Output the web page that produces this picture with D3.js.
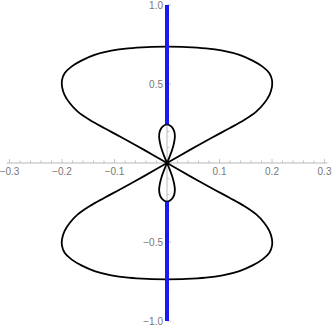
<!DOCTYPE html>
<html>
<head>
<meta charset="utf-8">
<script src="https://cdn.jsdelivr.net/npm/d3@7"></script>
<style>
  body { margin: 0; background: #fff; }
  svg { display: block; }
</style>
</head>
<body>
<div id="chart"></div>
<script>
// big upper lobe (origin -> left side -> top -> right side -> origin)
const bigTopX = [0, -0.042, -0.087, -0.119, -0.147, -0.170, -0.185, -0.195, -0.2, -0.2, -0.195, -0.182, -0.163, -0.138, -0.106, -0.074, -0.037, 0,
  0.037, 0.074, 0.106, 0.138, 0.163, 0.182, 0.195, 0.2, 0.2, 0.195, 0.185, 0.170, 0.147, 0.119, 0.087, 0.042, 0];
const bigTopY = [0, 0.08, 0.163, 0.22, 0.272, 0.325, 0.378, 0.43, 0.483, 0.525, 0.568, 0.61, 0.648, 0.684, 0.711, 0.726, 0.734, 0.736,
  0.734, 0.726, 0.711, 0.684, 0.648, 0.61, 0.568, 0.525, 0.483, 0.43, 0.378, 0.325, 0.272, 0.22, 0.163, 0.08, 0];
const bigBotX = [0, -0.042, -0.087, -0.119, -0.147, -0.170, -0.185, -0.195, -0.2, -0.2, -0.195, -0.182, -0.163, -0.138, -0.106, -0.074, -0.037, 0,
  0.037, 0.074, 0.106, 0.138, 0.163, 0.182, 0.195, 0.2, 0.2, 0.195, 0.185, 0.170, 0.147, 0.119, 0.087, 0.042, 0];
const bigBotY = [0, -0.08, -0.163, -0.22, -0.272, -0.325, -0.378, -0.43, -0.483, -0.525, -0.568, -0.61, -0.648, -0.684, -0.711, -0.726, -0.734, -0.736,
  -0.734, -0.726, -0.711, -0.684, -0.648, -0.61, -0.568, -0.525, -0.483, -0.43, -0.378, -0.325, -0.272, -0.22, -0.163, -0.08, 0];

// small inner lobes
const smallTopX = [0, -0.005, -0.01, -0.0135, -0.015, -0.0135, -0.0085, 0, 0.0085, 0.0135, 0.015, 0.0135, 0.01, 0.005, 0];
const smallTopY = [0, 0.04, 0.085, 0.13, 0.168, 0.203, 0.23, 0.245, 0.23, 0.203, 0.168, 0.13, 0.085, 0.04, 0];
const smallBotX = [0, -0.005, -0.01, -0.0135, -0.015, -0.0135, -0.0085, 0, 0.0085, 0.0135, 0.015, 0.0135, 0.01, 0.005, 0];
const smallBotY = [0, -0.04, -0.085, -0.13, -0.168, -0.203, -0.23, -0.245, -0.23, -0.203, -0.168, -0.13, -0.085, -0.04, 0];

// blue vertical segments on x = 0 (y from, y to)
const blueFrom = [0.245, -1];
const blueTo = [1, -0.245];

const xTicks = [-0.3, -0.2, -0.1, 0.1, 0.2, 0.3];
const xTickLabels = ["\u22120.3", "\u22120.2", "\u22120.1", "0.1", "0.2", "0.3"];
const yTicks = [-1, -0.5, 0.5, 1];
const yTickLabels = ["\u22121.0", "\u22120.5", "0.5", "1.0"];

const width = 332, height = 329;

const x = d3.scaleLinear().domain([-0.3, 0.3]).range([9.5, 324.5]);
const y = d3.scaleLinear().domain([-1, 1]).range([321, 5]);

const svg = d3.select("#chart").append("svg")
  .attr("width", width)
  .attr("height", height);

const axisColor = "#b8b8b8";
const labelColor = "#777";

// x axis
const gx = svg.append("g");
gx.append("line")
  .attr("x1", x(-0.3) - 3).attr("x2", x(0.3) + 3)
  .attr("y1", y(0)).attr("y2", y(0))
  .attr("stroke", axisColor).attr("stroke-width", 1);
gx.selectAll("line.minor")
  .data(d3.range(-15, 16).map(i => i * 0.02))
  .join("line")
  .attr("class", "minor")
  .attr("x1", d => x(d)).attr("x2", d => x(d))
  .attr("y1", y(0)).attr("y2", d => y(0) - (Math.abs(Math.round(d * 50)) % 5 === 0 ? 4 : 2.5))
  .attr("stroke", axisColor).attr("stroke-width", 0.8);
gx.selectAll("text")
  .data(xTicks)
  .join("text")
  .attr("x", d => x(d))
  .attr("y", y(0) + 12)
  .attr("text-anchor", "middle")
  .attr("font-family", "Liberation Sans, Arial, sans-serif")
  .attr("font-size", 10)
  .attr("fill", labelColor)
  .text((d, i) => xTickLabels[i]);

// y axis
const gy = svg.append("g");
gy.append("line")
  .attr("x1", x(0)).attr("x2", x(0))
  .attr("y1", y(-1)).attr("y2", y(1))
  .attr("stroke", axisColor).attr("stroke-width", 1);
gy.selectAll("line.minor")
  .data(d3.range(-10, 11).map(i => i * 0.1))
  .join("line")
  .attr("class", "minor")
  .attr("x1", x(0))
  .attr("x2", d => x(0) + (Math.abs(Math.round(d * 10)) % 5 === 0 ? 4 : 2.5))
  .attr("y1", d => y(d)).attr("y2", d => y(d))
  .attr("stroke", axisColor).attr("stroke-width", 0.8);
gy.selectAll("text")
  .data(yTicks)
  .join("text")
  .attr("x", x(0) - 4)
  .attr("y", d => y(d))
  .attr("dy", "0.35em")
  .attr("text-anchor", "end")
  .attr("font-family", "Liberation Sans, Arial, sans-serif")
  .attr("font-size", 10)
  .attr("fill", labelColor)
  .text((d, i) => yTickLabels[i]);

// curve
const line = d3.line()
  .x(d => x(d[0]))
  .y(d => y(d[1]))
  .curve(d3.curveCatmullRom.alpha(0.5));

const loops = [
  d3.zip(bigTopX, bigTopY),
  d3.zip(bigBotX, bigBotY),
  d3.zip(smallTopX, smallTopY),
  d3.zip(smallBotX, smallBotY)
];

svg.append("g")
  .attr("fill", "none")
  .attr("stroke", "#000")
  .attr("stroke-width", 1.8)
  .attr("stroke-linejoin", "round")
  .selectAll("path")
  .data(loops)
  .join("path")
  .attr("d", line);

// blue segments
svg.append("g")
  .selectAll("line")
  .data(d3.zip(blueFrom, blueTo))
  .join("line")
  .attr("x1", x(0)).attr("x2", x(0))
  .attr("y1", d => y(d[0])).attr("y2", d => y(d[1]))
  .attr("stroke", "#1a1aef")
  .attr("stroke-width", 4);
</script>
</body>
</html>
